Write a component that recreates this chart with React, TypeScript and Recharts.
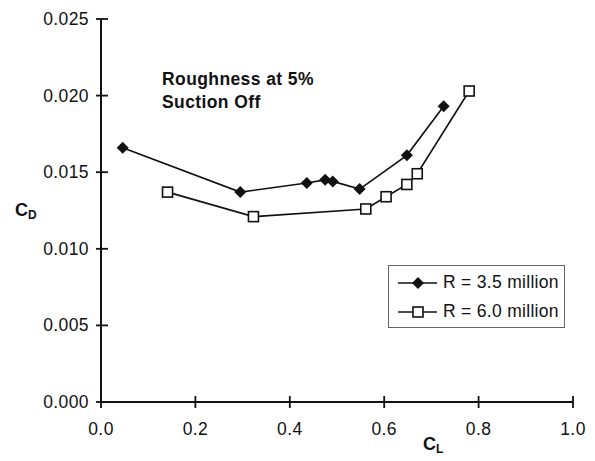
import React from 'react'
import { LineChart, Line, XAxis, YAxis, Legend } from 'recharts'

// drag polar, roughness at 5% chord, suction off
const clLow = [0.046, 0.295, 0.436, 0.475, 0.491, 0.548, 0.648, 0.726]
const cdLow = [0.0166, 0.0137, 0.0143, 0.0145, 0.0144, 0.0139, 0.0161, 0.0193]
const clHigh = [0.141, 0.323, 0.561, 0.604, 0.648, 0.67, 0.78]
const cdHigh = [0.0137, 0.0121, 0.0126, 0.0134, 0.0142, 0.0149, 0.0203]
const xTicks = [0, 0.2, 0.4, 0.6, 0.8, 1.0]
const yTicks = [0, 0.005, 0.01, 0.015, 0.02, 0.025]
const seriesNames = ['R = 3.5 million', 'R = 6.0 million']
const titleLines = ['Roughness at 5%', 'Suction Off']

const lowData = clLow.map((cl, i) => ({ cl, cd: cdLow[i] }))
const highData = clHigh.map((cl, i) => ({ cl, cd: cdHigh[i] }))

const FONT = '"Liberation Sans", Arial, Helvetica, sans-serif'
const INK = '#111'

const Diamond = ({ cx, cy }: any) => (
  <polygon
    points={`${cx},${cy - 6} ${cx + 6},${cy} ${cx},${cy + 6} ${cx - 6},${cy}`}
    fill={INK}
  />
)

const Square = ({ cx, cy }: any) => (
  <rect x={cx - 5} y={cy - 5} width={10} height={10} fill="#fff" stroke={INK} strokeWidth={1.6} />
)

// ticks cross the axis line, like the printed figure
const XTick = ({ x, y, payload }: any) => {
  const axisY = y - 10
  return (
    <g>
      <line x1={x} x2={x} y1={axisY - 6} y2={axisY + 6} stroke={INK} strokeWidth={1.8} />
      <text x={x} y={axisY + 33} textAnchor="middle" fontSize={17.5} letterSpacing={0.4} fontFamily={FONT} fill={INK}>
        {payload.value.toFixed(1)}
      </text>
    </g>
  )
}

const YTick = ({ x, y, payload }: any) => {
  const axisX = x + 12
  return (
    <g>
      <line x1={axisX - 5} x2={axisX + 7} y1={y} y2={y} stroke={INK} strokeWidth={1.8} />
      <text x={x} y={y + 6} textAnchor="end" fontSize={17.5} letterSpacing={0.4} fontFamily={FONT} fill={INK}>
        {payload.value.toFixed(3)}
      </text>
    </g>
  )
}

const CdLabel = () => (
  <text x={15} y={216} fontFamily={FONT} fontWeight="bold" fill={INK}>
    <tspan fontSize={18}>C</tspan>
    <tspan fontSize={12} dy={3}>D</tspan>
  </text>
)

const ClLabel = () => (
  <text x={423} y={450} fontFamily={FONT} fontWeight="bold" fill={INK}>
    <tspan fontSize={18}>C</tspan>
    <tspan fontSize={12} dy={3}>L</tspan>
  </text>
)

const LegendBox = () => (
  <div
    style={{
      width: 175,
      height: 59,
      border: '1px solid #666',
      background: '#fff',
      fontFamily: FONT,
      fontSize: 17.5,
      letterSpacing: 0.3,
      color: INK,
      paddingTop: 2,
      boxSizing: 'content-box',
    }}
  >
    {seriesNames.map((name, i) => (
      <div key={name} style={{ display: 'flex', alignItems: 'center', height: 29 }}>
        <svg width={40} height={16} style={{ marginLeft: 9, marginRight: 5 }}>
          <line x1={0} x2={39} y1={8} y2={8} stroke={INK} strokeWidth={1.6} />
          {i === 0 ? <Diamond cx={20} cy={8} /> : <Square cx={20} cy={8} />}
        </svg>
        <span>{name}</span>
      </div>
    ))}
  </div>
)

export default function App() {
  return (
    <div style={{ position: 'absolute', left: 0, top: 0, width: 595, height: 461, background: '#fff' }}>
      <LineChart width={595} height={461} margin={{ top: 19, right: 22, bottom: 29, left: 0 }}>
        <XAxis
          type="number"
          dataKey="cl"
          domain={[0, 1]}
          ticks={xTicks}
          height={30}
          tickSize={6}
          tickMargin={4}
          tickLine={false}
          axisLine={{ stroke: INK, strokeWidth: 2 }}
          tick={<XTick />}
          label={<ClLabel />}
        />
        <YAxis
          type="number"
          dataKey="cd"
          domain={[0, 0.025]}
          ticks={yTicks}
          width={101}
          tickSize={6}
          tickMargin={6}
          tickLine={false}
          axisLine={{ stroke: INK, strokeWidth: 2 }}
          tick={<YTick />}
          label={<CdLabel />}
        />
        <Legend
          layout="vertical"
          align="center"
          verticalAlign="middle"
          wrapperStyle={{ left: 388, top: 265, width: 177 }}
          content={<LegendBox />}
        />
        <Line
          data={lowData}
          dataKey="cd"
          name={seriesNames[0]}
          stroke={INK}
          strokeWidth={1.6}
          dot={<Diamond />}
          activeDot={false}
          isAnimationActive={false}
        />
        <Line
          data={highData}
          dataKey="cd"
          name={seriesNames[1]}
          stroke={INK}
          strokeWidth={1.6}
          dot={<Square />}
          activeDot={false}
          isAnimationActive={false}
        />
      </LineChart>
      <div
        style={{
          position: 'absolute',
          left: 162,
          top: 68,
          fontFamily: FONT,
          fontWeight: 'bold',
          fontSize: 17.5,
          letterSpacing: 0.4,
          lineHeight: '23px',
          color: INK,
        }}
      >
        {titleLines.map((t) => (
          <div key={t}>{t}</div>
        ))}
      </div>
    </div>
  )
}
